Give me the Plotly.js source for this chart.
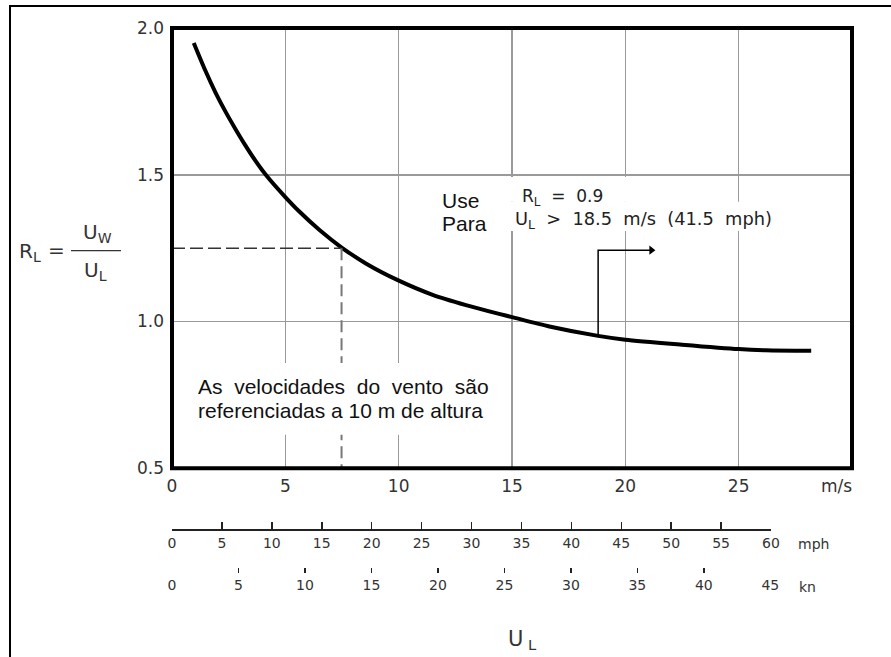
<!DOCTYPE html>
<html>
<head>
<meta charset="utf-8">
<script src="https://cdn.plot.ly/plotly-3.0.1.min.js"></script>
<style>html,body{margin:0;padding:0;background:#fff;}#chart{width:891px;height:657px;}</style>
</head>
<body>
<div id="chart"></div>
<script>
// Curve: wind speed U_L (m/s) vs ratio R_L
var speedMs = [0.96, 1.47, 1.92, 2.36, 2.79, 3.23, 3.67, 4.19, 4.99, 5.64, 6.52, 7.47, 8.57, 9.96, 11.5, 12.97, 14.43, 15.0, 16.65, 18.8, 20.0, 22.5, 25.0, 26.2, 28.2];
var ratioRL = [1.949, 1.855, 1.780, 1.715, 1.657, 1.601, 1.549, 1.495, 1.425, 1.373, 1.311, 1.253, 1.197, 1.141, 1.091, 1.056, 1.026, 1.015, 0.983, 0.951, 0.938, 0.921, 0.906, 0.902, 0.900];

// Reference reading (dashed lines)
var refX = [0, 7.48, 7.48];
var refY = [1.25, 1.25, 0.5];

// Arrow marking U_L > 18.5 m/s
var arrowX = [18.8, 18.8, 21.15];
var arrowY = [0.951, 1.243, 1.243];

// Tick values / labels
var msTicks = [0, 5, 10, 15, 20, 25];
var rlTicks = [0.5, 1.0, 1.5, 2.0];
var rlTickText = ['0.5', '1.0', '1.5', '2.0'];
var mphTicks = [0, 5, 10, 15, 20, 25, 30, 35, 40, 45, 50, 55, 60];
var knTicks = [0, 5, 10, 15, 20, 25, 30, 35, 40, 45];

// pixel helpers for layout placement (plot: l=172, width=680, top=28, paper height=612)
function px(x) { return (x - 172) / 680; }
function py(y) { return (640 - y) / 612; }

var NB = '\u00a0';
var tickFont = {family: 'DejaVu Sans', size: 17, color: '#333'};
var arial = {family: 'Liberation Sans, Arial', size: 21, color: '#111'};
var cad = {family: 'DejaVu Sans', size: 17, color: '#222'};
var cad2 = {family: 'DejaVu Sans', size: 17.8, color: '#222'};
var eqFont = {family: 'DejaVu Sans', size: 20, color: '#333'};

var traces = [
  {x: speedMs, y: ratioRL, mode: 'lines', line: {color: '#000', width: 4, shape: 'spline', smoothing: 0.7}, hoverinfo: 'skip'},
  {x: refX.slice(0, 2), y: refY.slice(0, 2), mode: 'lines', line: {color: '#333', width: 1.5, dash: '13px,5px'}, hoverinfo: 'skip'},
  {x: refX.slice(1), y: refY.slice(1), mode: 'lines', line: {color: '#777', width: 2, dash: '12px,6px'}, hoverinfo: 'skip'},
  {x: arrowX, y: arrowY, mode: 'lines', line: {color: '#000', width: 1.5}, hoverinfo: 'skip'},
  {x: arrowX.slice(2), y: arrowY.slice(2), mode: 'markers', marker: {symbol: 'triangle-right', size: 8, color: '#000', line: {width: 0}}, hoverinfo: 'skip'},
  {x: [], y: [], xaxis: 'x2', yaxis: 'y2', mode: 'markers'},
  {x: [], y: [], xaxis: 'x3', yaxis: 'y3', mode: 'markers'}
];

var layout = {
  width: 891, height: 657,
  margin: {l: 172, r: 39, t: 28, b: 17, pad: 0},
  paper_bgcolor: '#fff', plot_bgcolor: '#fff',
  showlegend: false,
  xaxis: {
    range: [0, 30], domain: [0, 1], anchor: 'y',
    tickvals: msTicks, ticks: '', showline: false, zeroline: false,
    showgrid: true, gridcolor: '#9a9a9a', gridwidth: 1.5,
    tickfont: tickFont, ticklabelstandoff: 6
  },
  yaxis: {
    range: [0.5, 2.0], domain: [0.2806, 1], anchor: 'x',
    tickvals: rlTicks, ticktext: rlTickText, ticks: '', showline: false, zeroline: false,
    showgrid: true, gridcolor: '#9a9a9a', gridwidth: 1.5,
    tickfont: tickFont, ticklabelstandoff: 7
  },
  xaxis2: {
    range: [0, 60], domain: [0, 0.8809], anchor: 'y2',
    tickvals: mphTicks, ticks: 'inside', ticklen: 7, tickwidth: 1.5, tickcolor: '#222',
    showline: true, linecolor: '#222', linewidth: 1.5, showgrid: false, zeroline: false,
    tickfont: {family: 'DejaVu Sans', size: 14, color: '#333'}
  },
  yaxis2: {domain: [0.1809, 0.19], anchor: 'x2', visible: false, range: [0, 1]},
  xaxis3: {
    range: [0, 45], domain: [0, 0.8799], anchor: 'y3',
    tickvals: knTicks, ticks: 'inside', ticklen: 5, tickwidth: 1.5, tickcolor: '#222',
    showline: false, showgrid: false, zeroline: false,
    tickfont: {family: 'DejaVu Sans', size: 14, color: '#333'}, ticklabelstandoff: 2
  },
  yaxis3: {domain: [0.109, 0.118], anchor: 'x3', visible: false, range: [0, 1]},
  shapes: [
    // outer frame
    {type: 'rect', xref: 'paper', yref: 'paper', x0: px(10), x1: 1.2, y0: -0.2, y1: py(6), line: {color: '#000', width: 2}, layer: 'above'},
    // white boxes behind text
    {type: 'rect', xref: 'x', yref: 'y', x0: 0.6, x1: 14.3, y0: 0.614, y1: 0.859, fillcolor: '#fff', line: {width: 0}, layer: 'above'},
    {type: 'rect', xref: 'x', yref: 'y', x0: 14.6, x1: 20.7, y0: 1.408, y1: 1.492, fillcolor: '#fff', line: {width: 0}, layer: 'above'},
    {type: 'rect', xref: 'x', yref: 'y', x0: 14.6, x1: 26.4, y0: 1.308, y1: 1.408, fillcolor: '#fff', line: {width: 0}, layer: 'above'},
    // heavy plot frame
    {type: 'rect', xref: 'paper', yref: 'paper', x0: 0, x1: 1, y0: 0.2806, y1: 1, line: {color: '#000', width: 4}, layer: 'above'},
    // fraction bar of the y title
    {type: 'line', xref: 'paper', yref: 'paper', x0: px(71), x1: px(121), y0: py(250.7), y1: py(250.7), line: {color: '#333', width: 1.3}}
  ],
  annotations: [
    {xref: 'paper', yref: 'paper', x: px(440), y: py(200), xanchor: 'left', yanchor: 'middle', text: 'Use', showarrow: false, font: arial},
    {xref: 'paper', yref: 'paper', x: px(440), y: py(224), xanchor: 'left', yanchor: 'middle', text: 'Para', showarrow: false, font: arial},
    {xref: 'paper', yref: 'paper', x: px(196), y: py(386.7), xanchor: 'left', yanchor: 'middle',
     text: 'As' + NB + NB + 'velocidades' + NB + NB + 'do' + NB + NB + 'vento' + NB + NB + 'são', showarrow: false, font: arial},
    {xref: 'paper', yref: 'paper', x: px(196), y: py(410.7), xanchor: 'left', yanchor: 'middle',
     text: 'referenciadas a 10 m de altura', showarrow: false, font: arial},
    {xref: 'paper', yref: 'paper', x: px(520), y: py(197), xanchor: 'left', yanchor: 'middle',
     text: 'R<sub>L</sub>' + NB + NB + '=' + NB + NB + '0.9', showarrow: false, font: cad},
    {xref: 'paper', yref: 'paper', x: px(513), y: py(220), xanchor: 'left', yanchor: 'middle',
     text: 'U<sub>L</sub>' + NB + NB + '>' + NB + NB + '18.5' + NB + NB + 'm/s' + NB + NB + '(41.5' + NB + NB + 'mph)', showarrow: false, font: cad2},
    {xref: 'paper', yref: 'paper', x: px(836), y: py(485.7), xanchor: 'center', yanchor: 'middle', text: 'm/s', showarrow: false, font: tickFont},
    {xref: 'paper', yref: 'paper', x: px(813), y: py(543.7), xanchor: 'center', yanchor: 'middle', text: 'mph', showarrow: false, font: {family: 'DejaVu Sans', size: 14, color: '#333'}},
    {xref: 'paper', yref: 'paper', x: px(807), y: py(587), xanchor: 'center', yanchor: 'middle', text: 'kn', showarrow: false, font: {family: 'DejaVu Sans', size: 14, color: '#333'}},
    {xref: 'paper', yref: 'paper', x: px(522), y: py(640), xanchor: 'center', yanchor: 'middle', text: 'U<sub> L</sub>', showarrow: false, font: {family: 'DejaVu Sans', size: 21, color: '#333'}},
    {xref: 'paper', yref: 'paper', x: px(17), y: py(252), xanchor: 'left', yanchor: 'middle', text: 'R<sub>L</sub>', showarrow: false, font: eqFont},
    {xref: 'paper', yref: 'paper', x: px(56.5), y: py(250), xanchor: 'center', yanchor: 'middle', text: '=', showarrow: false, font: eqFont},
    {xref: 'paper', yref: 'paper', x: px(97), y: py(248), xanchor: 'center', yanchor: 'bottom', text: 'U<sub>W</sub>', showarrow: false, font: eqFont},
    {xref: 'paper', yref: 'paper', x: px(95), y: py(256), xanchor: 'center', yanchor: 'top', text: 'U<sub>L</sub>', showarrow: false, font: eqFont}
  ]
};

Plotly.newPlot('chart', traces, layout, {staticPlot: true, displayModeBar: false});
</script>
</body>
</html>
